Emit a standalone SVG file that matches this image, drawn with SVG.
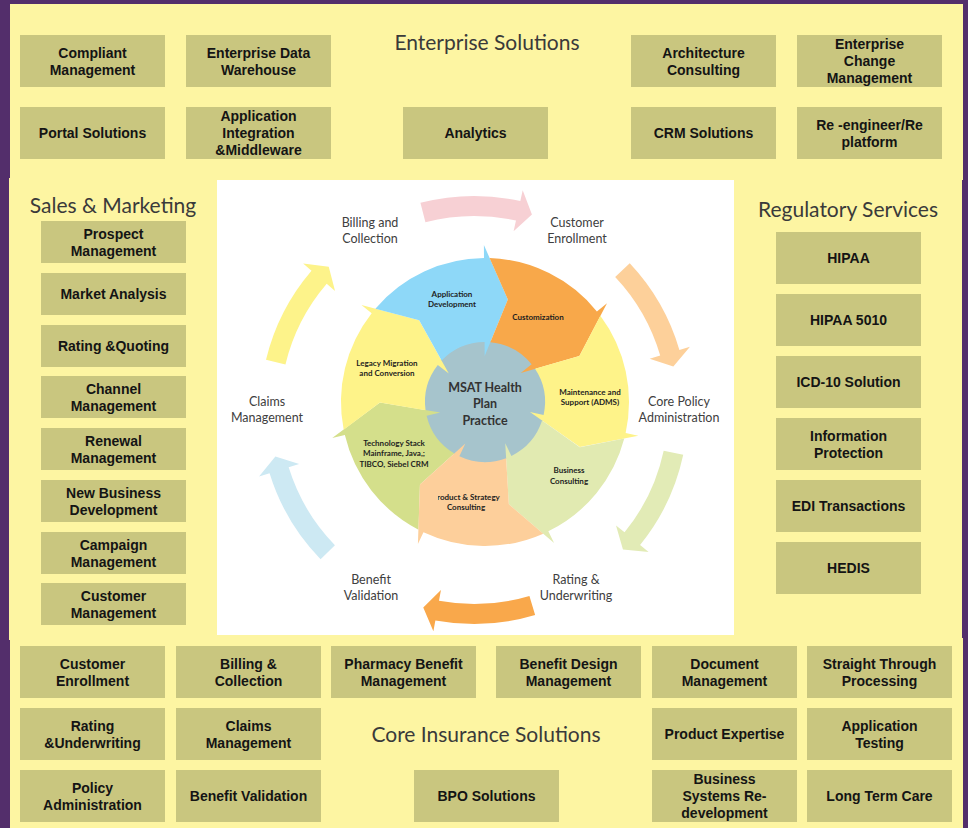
<svg xmlns="http://www.w3.org/2000/svg" xmlns:xlink="http://www.w3.org/1999/xlink" width="968" height="828" viewBox="0 0 968 828">
<style>
.box{fill:#c9c67f}
.bt{font-family:"Liberation Sans",Arial,sans-serif;font-weight:bold;font-size:14px;fill:#141414;text-anchor:middle}
.title{font-family:Lato,"Open Sans",sans-serif;font-size:21px;fill:#3a3a3a;text-anchor:middle}
.cyc{font-family:Lato,"Open Sans",sans-serif;font-size:12.5px;fill:#404040;text-anchor:middle}
.seg{font-family:Lato,"Open Sans",sans-serif;font-weight:bold;font-size:8px;fill:#1e1e1e;text-anchor:middle}
.ctr{font-family:Lato,"Open Sans",sans-serif;font-weight:bold;font-size:12.5px;fill:#333;text-anchor:middle}
</style>
<defs>
<path id="seg" d="M67.20,-127.36 A144,144 0 0 1 140.31,-32.39 L152.98,-35.32 L105,0 L44.82,-10.35 L58.46,-13.50 A60,60 0 0 0 30.97,-51.39 L65.47,-82.10 Z"/>
<path id="carrow" d="M214,0 A214,214 0 0 1 190.68,97.15 L200.48,102.15 L174.86,105.07 L163.05,83.08 L172.86,88.07 A194,194 0 0 0 194,0 Z"/>
<clipPath id="pclip"><rect x="438" y="480" width="100" height="40"/></clipPath>
</defs>
<rect x="0" y="0" width="968" height="828" fill="#532e6b"/>
<rect x="10" y="4" width="953" height="176" fill="#fdf5a2"/>
<rect x="9" y="178" width="953" height="462" fill="#fdf5a2"/>
<rect x="10" y="638" width="953" height="190" fill="#fdf5a2"/>
<rect x="217" y="180" width="517" height="455" fill="#ffffff"/>

<text class="title" x="487" y="50">Enterprise Solutions</text>
<text class="title" x="113" y="213">Sales &amp; Marketing</text>
<text class="title" x="848" y="217">Regulatory Services</text>
<text class="title" x="486" y="742">Core Insurance Solutions</text>

<g id="n-compliant"><rect class="box" x="20" y="35" width="145" height="52"/><text class="bt" x="92.5" y="57.5">Compliant</text><text class="bt" x="92.5" y="74.5">Management</text></g>
<g id="n-edw"><rect class="box" x="186" y="35" width="145" height="52"/><text class="bt" x="258.5" y="57.5">Enterprise Data</text><text class="bt" x="258.5" y="74.5">Warehouse</text></g>
<g id="n-arch"><rect class="box" x="631" y="35" width="145" height="52"/><text class="bt" x="703.5" y="57.5">Architecture</text><text class="bt" x="703.5" y="74.5">Consulting</text></g>
<g id="n-ecm"><rect class="box" x="797" y="35" width="145" height="52"/><text class="bt" x="869.5" y="49">Enterprise</text><text class="bt" x="869.5" y="66">Change</text><text class="bt" x="869.5" y="83">Management</text></g>
<g id="n-portal"><rect class="box" x="20" y="107" width="145" height="52"/><text class="bt" x="92.5" y="138">Portal Solutions</text></g>
<g id="n-aim"><rect class="box" x="186" y="107" width="145" height="52"/><text class="bt" x="258.5" y="121">Application</text><text class="bt" x="258.5" y="138">Integration</text><text class="bt" x="258.5" y="155">&amp;Middleware</text></g>
<g id="n-analytics"><rect class="box" x="403" y="107" width="145" height="52"/><text class="bt" x="475.5" y="138">Analytics</text></g>
<g id="n-crm"><rect class="box" x="631" y="107" width="145" height="52"/><text class="bt" x="703.5" y="138">CRM Solutions</text></g>
<g id="n-reeng"><rect class="box" x="797" y="107" width="145" height="52"/><text class="bt" x="869.5" y="129.5">Re -engineer/Re</text><text class="bt" x="869.5" y="146.5">platform</text></g>

<g id="n-prospect"><rect class="box" x="41" y="221" width="145" height="42"/><text class="bt" x="113.5" y="238.5">Prospect</text><text class="bt" x="113.5" y="255.5">Management</text></g>
<g id="n-market"><rect class="box" x="41" y="273" width="145" height="42"/><text class="bt" x="113.5" y="299">Market Analysis</text></g>
<g id="n-rating-q"><rect class="box" x="41" y="325" width="145" height="42"/><text class="bt" x="113.5" y="351">Rating &amp;Quoting</text></g>
<g id="n-channel"><rect class="box" x="41" y="376" width="145" height="42"/><text class="bt" x="113.5" y="393.5">Channel</text><text class="bt" x="113.5" y="410.5">Management</text></g>
<g id="n-renewal"><rect class="box" x="41" y="428" width="145" height="42"/><text class="bt" x="113.5" y="445.5">Renewal</text><text class="bt" x="113.5" y="462.5">Management</text></g>
<g id="n-newbiz"><rect class="box" x="41" y="480" width="145" height="42"/><text class="bt" x="113.5" y="497.5">New Business</text><text class="bt" x="113.5" y="514.5">Development</text></g>
<g id="n-campaign"><rect class="box" x="41" y="532" width="145" height="42"/><text class="bt" x="113.5" y="549.5">Campaign</text><text class="bt" x="113.5" y="566.5">Management</text></g>
<g id="n-custmgmt"><rect class="box" x="41" y="583" width="145" height="42"/><text class="bt" x="113.5" y="600.5">Customer</text><text class="bt" x="113.5" y="617.5">Management</text></g>

<g id="n-hipaa"><rect class="box" x="776" y="232" width="145" height="52"/><text class="bt" x="848.5" y="263">HIPAA</text></g>
<g id="n-hipaa5010"><rect class="box" x="776" y="294" width="145" height="52"/><text class="bt" x="848.5" y="325">HIPAA 5010</text></g>
<g id="n-icd10"><rect class="box" x="776" y="356" width="145" height="52"/><text class="bt" x="848.5" y="387">ICD-10 Solution</text></g>
<g id="n-infoprot"><rect class="box" x="776" y="418" width="145" height="52"/><text class="bt" x="848.5" y="440.5">Information</text><text class="bt" x="848.5" y="457.5">Protection</text></g>
<g id="n-edi"><rect class="box" x="776" y="480" width="145" height="52"/><text class="bt" x="848.5" y="511">EDI Transactions</text></g>
<g id="n-hedis"><rect class="box" x="776" y="542" width="145" height="52"/><text class="bt" x="848.5" y="573">HEDIS</text></g>

<g id="n-custenroll"><rect class="box" x="20" y="646" width="145" height="52"/><text class="bt" x="92.5" y="668.5">Customer</text><text class="bt" x="92.5" y="685.5">Enrollment</text></g>
<g id="n-billing"><rect class="box" x="176" y="646" width="145" height="52"/><text class="bt" x="248.5" y="668.5">Billing &amp;</text><text class="bt" x="248.5" y="685.5">Collection</text></g>
<g id="n-pharmacy"><rect class="box" x="331" y="646" width="145" height="52"/><text class="bt" x="403.5" y="668.5">Pharmacy Benefit</text><text class="bt" x="403.5" y="685.5">Management</text></g>
<g id="n-benefitdesign"><rect class="box" x="496" y="646" width="145" height="52"/><text class="bt" x="568.5" y="668.5">Benefit Design</text><text class="bt" x="568.5" y="685.5">Management</text></g>
<g id="n-document"><rect class="box" x="652" y="646" width="145" height="52"/><text class="bt" x="724.5" y="668.5">Document</text><text class="bt" x="724.5" y="685.5">Management</text></g>
<g id="n-stp"><rect class="box" x="807" y="646" width="145" height="52"/><text class="bt" x="879.5" y="668.5">Straight Through</text><text class="bt" x="879.5" y="685.5">Processing</text></g>
<g id="n-rating-u"><rect class="box" x="20" y="708" width="145" height="52"/><text class="bt" x="92.5" y="730.5">Rating</text><text class="bt" x="92.5" y="747.5">&amp;Underwriting</text></g>
<g id="n-claims"><rect class="box" x="176" y="708" width="145" height="52"/><text class="bt" x="248.5" y="730.5">Claims</text><text class="bt" x="248.5" y="747.5">Management</text></g>
<g id="n-prodexp"><rect class="box" x="652" y="708" width="145" height="52"/><text class="bt" x="724.5" y="739">Product Expertise</text></g>
<g id="n-apptest"><rect class="box" x="807" y="708" width="145" height="52"/><text class="bt" x="879.5" y="730.5">Application</text><text class="bt" x="879.5" y="747.5">Testing</text></g>
<g id="n-policy"><rect class="box" x="20" y="770" width="145" height="52"/><text class="bt" x="92.5" y="792.5">Policy</text><text class="bt" x="92.5" y="809.5">Administration</text></g>
<g id="n-benval"><rect class="box" x="176" y="770" width="145" height="52"/><text class="bt" x="248.5" y="801">Benefit Validation</text></g>
<g id="n-bpo"><rect class="box" x="414" y="770" width="145" height="52"/><text class="bt" x="486.5" y="801">BPO Solutions</text></g>
<g id="n-bsr"><rect class="box" x="652" y="770" width="145" height="52"/><text class="bt" x="724.5" y="784">Business</text><text class="bt" x="724.5" y="801">Systems Re-</text><text class="bt" x="724.5" y="818">development</text></g>
<g id="n-ltc"><rect class="box" x="807" y="770" width="145" height="52"/><text class="bt" x="879.5" y="801">Long Term Care</text></g>

<g id="connectors">
<use xlink:href="#carrow" fill="#fdf38a" transform="translate(474,410) rotate(193.6)"/>
<use xlink:href="#carrow" fill="#f7d0d4" transform="translate(474,410) rotate(255.5)"/>
<use xlink:href="#carrow" fill="#fdd09a" transform="translate(474,410) rotate(316.7)"/>
<use xlink:href="#carrow" fill="#e2ebb6" transform="translate(474,410) rotate(12.1)"/>
<use xlink:href="#carrow" fill="#f9a84b" transform="translate(474,410) rotate(73.4)"/>
<use xlink:href="#carrow" fill="#cde9f3" transform="translate(474,410) rotate(135.8)"/>
</g>

<g id="cycle-labels">
<text class="cyc" x="370" y="227">Billing and</text><text class="cyc" x="370" y="243">Collection</text>
<text class="cyc" x="577" y="227">Customer</text><text class="cyc" x="577" y="243">Enrollment</text>
<text class="cyc" x="679" y="406">Core Policy</text><text class="cyc" x="679" y="422">Administration</text>
<text class="cyc" x="576" y="584">Rating &amp;</text><text class="cyc" x="576" y="600">Underwriting</text>
<text class="cyc" x="371" y="584">Benefit</text><text class="cyc" x="371" y="600">Validation</text>
<text class="cyc" x="267" y="406">Claims</text><text class="cyc" x="267" y="422">Management</text>
</g>

<g id="pie">
<circle cx="485" cy="402" r="61" fill="#a6c4cc"/>
<use xlink:href="#seg" fill="#d4df8b" transform="translate(485,402) rotate(179.7)"/>
<use xlink:href="#seg" fill="#fef389" transform="translate(485,402) rotate(231.1)"/>
<use xlink:href="#seg" fill="#8ed8f8" transform="translate(485,402) rotate(282.6)"/>
<use xlink:href="#seg" fill="#f8a84a" transform="translate(485,402) rotate(334.0)"/>
<use xlink:href="#seg" fill="#fef389" transform="translate(485,402) rotate(25.4)"/>
<use xlink:href="#seg" fill="#e1eab1" transform="translate(485,402) rotate(76.9)"/>
<use xlink:href="#seg" fill="#fdcf9b" transform="translate(485,402) rotate(128.3)"/>
</g>

<g id="pie-labels">
<text class="seg" x="452" y="296.5">Application</text><text class="seg" x="452" y="306.5">Development</text>
<text class="seg" x="538" y="319.5">Customization</text>
<text class="seg" x="387" y="365.5">Legacy Migration</text><text class="seg" x="387" y="375.5">and Conversion</text>
<text class="seg" x="590" y="394.5">Maintenance and</text><text class="seg" x="590" y="404.5">Support (ADMS)</text>
<text class="seg" x="569" y="472.5">Business</text><text class="seg" x="569" y="483.5">Consulting</text>
<text class="seg" x="466" y="499.5" clip-path="url(#pclip)">Product &amp; Strategy</text><text class="seg" x="466" y="509.5">Consulting</text>
<text class="seg" x="394" y="445.5">Technology Stack</text><text class="seg" x="394" y="456">Mainframe, Java,;</text><text class="seg" x="394" y="466.5">TIBCO, Siebel CRM</text>
<text class="ctr" x="485" y="391.5">MSAT Health</text>
<text class="ctr" x="485" y="408">Plan</text>
<text class="ctr" x="485" y="424.5">Practice</text>
</g>
</svg>
